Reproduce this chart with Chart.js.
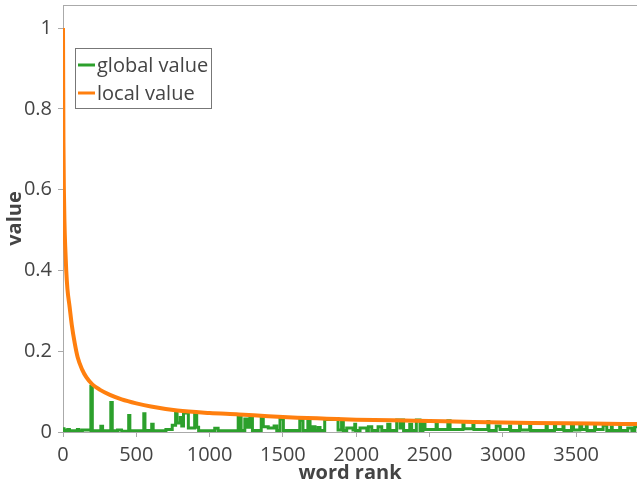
<!DOCTYPE html>
<html>
<head>
<meta charset="utf-8">
<script src="https://cdn.jsdelivr.net/npm/chart.js@4/dist/chart.umd.min.js"></script>
<style>
  html, body { margin: 0; padding: 0; background: #fff; }
  #wrap { position: relative; width: 637px; height: 485px; }
</style>
</head>
<body>
<div id="wrap"><canvas id="chart"></canvas></div>
<script>
// ---- data ----
const xTickValues = [0, 500, 1000, 1500, 2000, 2500, 3000, 3500];
const yTickValues = [0, 0.2, 0.4, 0.6, 0.8, 1];
const seriesLabels = ['global value', 'local value'];

// local value: smooth decaying curve  [rank, value]
const localPoints = [
  [0, 1.0], [1, 0.9], [3, 0.72], [6, 0.6], [10, 0.52], [15, 0.46], [22, 0.40],
  [30, 0.355], [45, 0.31], [60, 0.265], [80, 0.22], [100, 0.185], [130, 0.155],
  [160, 0.135], [200, 0.118], [250, 0.105], [320, 0.092], [400, 0.081],
  [500, 0.071], [600, 0.063], [780, 0.053], [1000, 0.047], [1200, 0.0435],
  [1400, 0.039], [1600, 0.0355], [1800, 0.033], [2000, 0.0305], [2400, 0.028],
  [2800, 0.025], [3200, 0.0225], [3600, 0.021], [3915, 0.0195]
];

// global value: near-zero baseline with spikes  [rank, value]
const globalPoints = [
  [0, 0.008], [8, 0.008], [10, 0.004], [30, 0.004], [32, 0.006], [45, 0.006], [47, 0.003],
  [95, 0.003], [97, 0.006], [110, 0.006], [112, 0.003], [130, 0.003], [132, 0.005], [180, 0.005],
  [190, 0.003], [190, 0.113], [200, 0.113], [200, 0.003],
  [258, 0.003], [258, 0.014], [270, 0.014], [270, 0.003],
  [326, 0.003], [326, 0.073], [336, 0.073], [336, 0.003],
  [370, 0.003], [372, 0.005], [400, 0.005], [402, 0.002],
  [448, 0.002], [448, 0.041], [456, 0.041], [456, 0.003],
  [551, 0.003], [551, 0.045], [559, 0.045], [559, 0.004],
  [605, 0.004], [605, 0.019], [615, 0.019], [615, 0.003],
  [700, 0.003], [702, 0.006], [745, 0.006], [745, 0.017], [768, 0.017], [768, 0.05],
  [778, 0.05], [778, 0.022], [800, 0.022], [800, 0.036], [810, 0.036], [810, 0.015],
  [822, 0.015], [822, 0.047], [855, 0.047], [855, 0.01], [898, 0.01], [898, 0.045],
  [912, 0.045], [912, 0.012], [925, 0.012], [925, 0.003],
  [1035, 0.003], [1035, 0.009], [1058, 0.009], [1058, 0.003],
  [1195, 0.003], [1195, 0.038], [1215, 0.038], [1215, 0.004], [1240, 0.004], [1240, 0.032],
  [1255, 0.032], [1255, 0.012], [1275, 0.012], [1275, 0.036], [1292, 0.036], [1292, 0.004],
  [1352, 0.004], [1352, 0.036], [1366, 0.036], [1366, 0.013], [1400, 0.013], [1400, 0.01],
  [1440, 0.01], [1440, 0.015], [1458, 0.015], [1458, 0.004],
  [1480, 0.004], [1480, 0.032], [1503, 0.032], [1503, 0.004],
  [1615, 0.004], [1615, 0.029], [1637, 0.029], [1637, 0.004], [1670, 0.004], [1670, 0.029],
  [1685, 0.029], [1685, 0.004], [1705, 0.004], [1705, 0.013], [1719, 0.013], [1719, 0.004],
  [1740, 0.004], [1740, 0.011], [1753, 0.011], [1753, 0.004],
  [1785, 0.004], [1785, 0.031], [1842, 0.031], [1842, 0.033], [1876, 0.033], [1876, 0.005],
  [1900, 0.005], [1900, 0.031], [1912, 0.031], [1912, 0.004], [1935, 0.004], [1935, 0.01],
  [1978, 0.01], [1978, 0.005], [1990, 0.005], [1990, 0.019], [1996, 0.019], [1996, 0.004],
  [2026, 0.004], [2026, 0.01], [2072, 0.01], [2072, 0.004], [2083, 0.004], [2083, 0.013],
  [2106, 0.013], [2106, 0.004],
  [2149, 0.004], [2149, 0.013], [2174, 0.013], [2174, 0.004], [2215, 0.004], [2215, 0.019],
  [2230, 0.019], [2230, 0.004], [2276, 0.004], [2276, 0.03], [2299, 0.03], [2299, 0.01],
  [2315, 0.01], [2315, 0.03], [2323, 0.03], [2323, 0.004], [2365, 0.004], [2365, 0.019],
  [2378, 0.019], [2378, 0.004], [2410, 0.004], [2410, 0.03], [2435, 0.03], [2435, 0.004],
  [2455, 0.004], [2455, 0.026], [2469, 0.026], [2469, 0.006], [2545, 0.006], [2545, 0.026],
  [2553, 0.026], [2553, 0.006], [2625, 0.006], [2625, 0.028], [2640, 0.028], [2640, 0.006],
  [2728, 0.006], [2728, 0.026], [2735, 0.026], [2735, 0.008], [2796, 0.008], [2796, 0.026],
  [2803, 0.026], [2803, 0.006], [2898, 0.006], [2898, 0.026], [2905, 0.026], [2905, 0.004],
  [2955, 0.004], [2955, 0.015], [2981, 0.015], [2981, 0.006], [3046, 0.006], [3046, 0.015],
  [3053, 0.015], [3053, 0.004], [3114, 0.004], [3114, 0.019], [3120, 0.019], [3120, 0.005],
  [3183, 0.005], [3183, 0.019], [3190, 0.019], [3190, 0.004],
  [3295, 0.004], [3295, 0.017], [3303, 0.017], [3303, 0.004], [3352, 0.004], [3352, 0.017],
  [3360, 0.017], [3360, 0.006], [3410, 0.006], [3410, 0.017], [3417, 0.017], [3417, 0.004],
  [3468, 0.004], [3468, 0.016], [3482, 0.016], [3482, 0.005], [3525, 0.005], [3525, 0.017],
  [3538, 0.017], [3538, 0.006], [3569, 0.006], [3569, 0.017], [3575, 0.017], [3575, 0.004],
  [3626, 0.004], [3626, 0.017], [3632, 0.017], [3632, 0.006], [3684, 0.006], [3684, 0.017],
  [3709, 0.017], [3709, 0.004], [3740, 0.004], [3740, 0.013], [3746, 0.013], [3746, 0.004],
  [3797, 0.004], [3797, 0.017], [3803, 0.017], [3803, 0.004], [3852, 0.004], [3852, 0.01],
  [3880, 0.01], [3880, 0.004], [3900, 0.004], [3900, 0.013], [3915, 0.013]
];

const GREEN = '#2ca02c';
const ORANGE = '#ff7f0e';
const AXIS = '#aaaaaa';
const TEXT = '#444444';
const FONT = "'Open Sans', sans-serif";

// legend drawn inside the plot, top-left; plus the top frame line
const insideLegend = {
  id: 'insideLegend',
  afterDraw(chart) {
    const ctx = chart.ctx;
    const area = chart.chartArea;
    ctx.save();
    ctx.strokeStyle = AXIS;
    ctx.lineWidth = 1;
    ctx.beginPath();
    ctx.moveTo(area.left, area.top + 0.5);
    ctx.lineTo(area.right, area.top + 0.5);
    ctx.stroke();

    const bx = 75.5, by = 48.5, bw = 136, bh = 60;
    ctx.fillStyle = '#fff';
    ctx.fillRect(bx, by, bw, bh);
    ctx.strokeStyle = '#777';
    ctx.strokeRect(bx, by, bw, bh);
    ctx.font = '20px ' + FONT;
    ctx.textBaseline = 'middle';
    ctx.textAlign = 'left';
    chart.data.datasets.forEach((ds, i) => {
      const y = 65 + i * 28;
      ctx.strokeStyle = ds.borderColor;
      ctx.lineWidth = 3;
      ctx.beginPath();
      ctx.moveTo(78, y);
      ctx.lineTo(95, y);
      ctx.stroke();
      ctx.fillStyle = TEXT;
      ctx.fillText(ds.label, 97, y + 1);
    });
    ctx.restore();
  }
};

function noPad(s) {
  s.paddingTop = 0; s.paddingBottom = 0; s.paddingLeft = 0; s.paddingRight = 0;
}

new Chart(document.getElementById('chart'), {
  type: 'line',
  data: {
    datasets: [
      {
        label: seriesLabels[0],
        data: globalPoints.map(p => ({ x: p[0], y: p[1] })),
        borderColor: GREEN,
        borderWidth: 3,
        pointRadius: 0,
        tension: 0,
        order: 2
      },
      {
        label: seriesLabels[1],
        data: localPoints.map(p => ({ x: p[0], y: p[1] })),
        borderColor: ORANGE,
        borderWidth: 4,
        pointRadius: 0,
        cubicInterpolationMode: 'monotone',
        order: 1
      }
    ]
  },
  options: {
    responsive: true,
    maintainAspectRatio: false,
    animation: false,
    layout: { padding: { top: 5, right: 0, left: 0, bottom: 0 } },
    plugins: {
      legend: { display: false },
      tooltip: { enabled: false }
    },
    scales: {
      x: {
        type: 'linear',
        min: 0,
        max: 3915,
        afterBuildTicks: s => { s.ticks = xTickValues.map(v => ({ value: v })); },
        afterFit: s => { s.height = 53; noPad(s); },
        grid: { display: true, drawOnChartArea: false, drawTicks: true, tickLength: 5, color: AXIS },
        border: { display: true, color: AXIS, width: 1 },
        ticks: { font: { family: FONT, size: 20 }, color: TEXT, padding: 6, maxRotation: 0,
                 callback: v => String(v) },
        title: { display: true, text: 'word rank', font: { family: FONT, size: 20, weight: 'bold' }, color: TEXT, padding: { top: 0, bottom: 0 } }
      },
      y: {
        min: 0,
        max: 1.057,
        afterBuildTicks: s => { s.ticks = yTickValues.map(v => ({ value: v })); },
        afterFit: s => { s.width = 63; noPad(s); },
        grid: { display: true, drawOnChartArea: false, drawTicks: true, tickLength: 5, color: AXIS },
        border: { display: true, color: AXIS, width: 1 },
        ticks: { font: { family: FONT, size: 20 }, color: TEXT, padding: 6,
                 callback: v => String(v) },
        title: { display: true, text: 'value', font: { family: FONT, size: 20, weight: 'bold' }, color: TEXT, padding: { top: 3, bottom: 0 } }
      }
    }
  },
  plugins: [insideLegend]
});
</script>
</body>
</html>
